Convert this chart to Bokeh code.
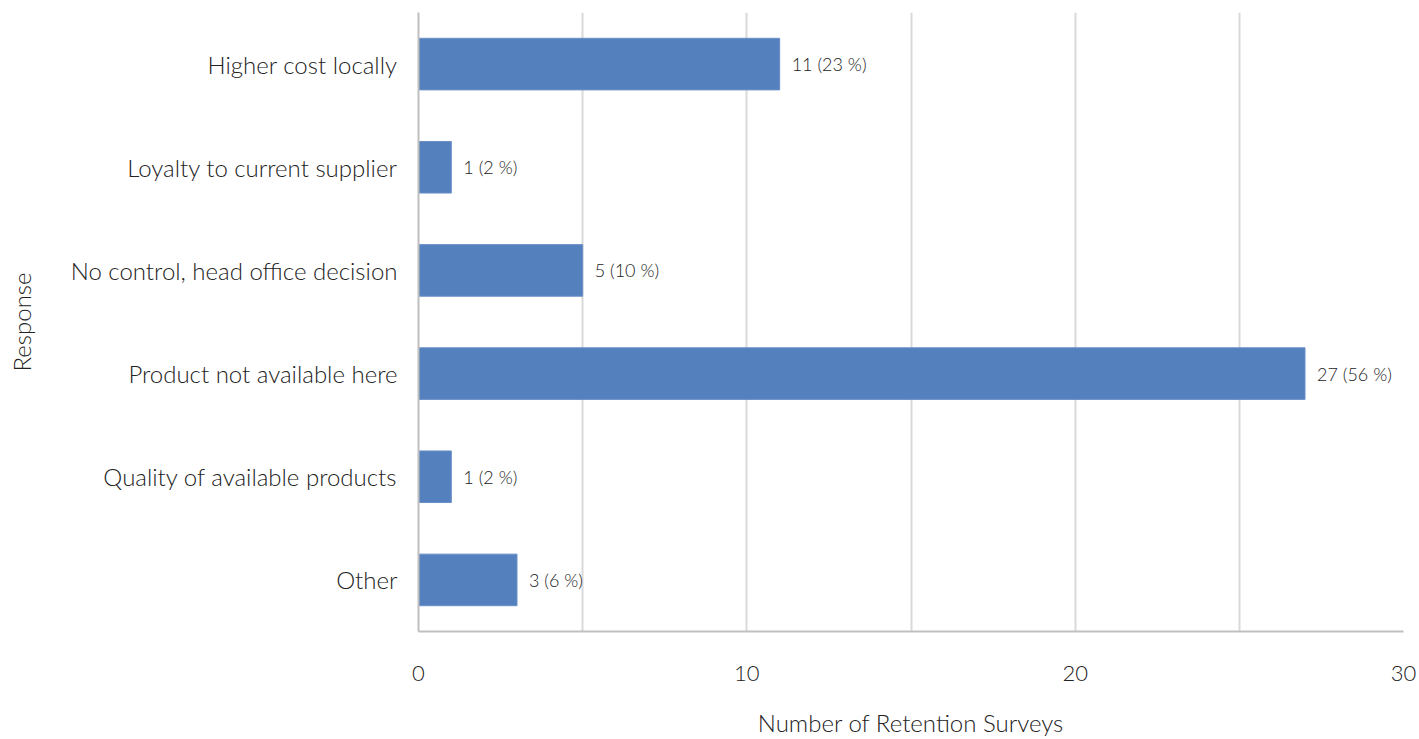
from bokeh.plotting import figure
from bokeh.models import ColumnDataSource, FixedTicker, Range1d, FactorRange
from bokeh.embed import file_html
from bokeh.resources import INLINE
from bokeh.core.properties import value

categories = ["Higher cost locally", "Loyalty to current supplier", "No control, head office decision",
              "Product not available here", "Quality of available products", "Other"]
counts = [11, 1, 5, 27, 1, 3]
percents = [23, 2, 10, 56, 2, 6]
x_ticks = [0, 10, 20, 30]
x_minor = [5, 15, 25]

labels = [f"{c} ({p} %)" for c, p in zip(counts, percents)]
src = ColumnDataSource(dict(cat=categories, n=counts, lab=labels))

FONT = "Lato Light"
TXT = "#222222"
p = figure(width=1419, height=739, output_backend="svg", toolbar_location=None,
           y_range=FactorRange(*list(reversed(categories))), x_range=Range1d(0, 30),
           min_border_left=418, min_border_right=16, min_border_top=12, min_border_bottom=101)
p.outline_line_color = None
p.background_fill_color = "white"
p.border_fill_color = "white"

p.hbar(y="cat", right="n", left=0, height=0.5, source=src, fill_color="#5580BE", line_color="#6a8fc8", line_width=1)
p.text(x="n", y="cat", text="lab", source=src, x_offset=12, text_baseline="middle", text_align="left",
       text_font_size="18px", text_color=TXT, text_font=value(FONT))

p.xaxis.ticker = FixedTicker(ticks=x_ticks, minor_ticks=x_minor)
p.xgrid.grid_line_color = "#d9d9d9"
p.xgrid.grid_line_width = 2
p.xgrid.minor_grid_line_color = "#d9d9d9"
p.xgrid.minor_grid_line_width = 2
p.ygrid.grid_line_color = None

for ax in (p.xaxis, p.yaxis):
    ax.axis_line_color = "#bfbfbf"
    ax.axis_line_width = 2
    ax.major_tick_line_color = None
    ax.minor_tick_line_color = None
    ax.major_label_text_font = FONT
    ax.axis_label_text_font = FONT
    ax.major_label_text_color = TXT
    ax.axis_label_text_color = TXT
    ax.axis_label_text_font_style = "normal"

p.xaxis.major_label_text_font_size = "22px"
p.xaxis.major_label_standoff = 28
p.xaxis.axis_label = "Number of Retention Surveys"
p.xaxis.axis_label_text_font_size = "24px"
p.xaxis.axis_label_standoff = 24

p.yaxis.major_label_text_font_size = "24px"
p.yaxis.major_label_standoff = 15
p.yaxis.axis_label = "Response"
p.yaxis.axis_label_text_font_size = "24px"
p.yaxis.axis_label_standoff = 32

open("out.html", "w").write(file_html(p, INLINE))
